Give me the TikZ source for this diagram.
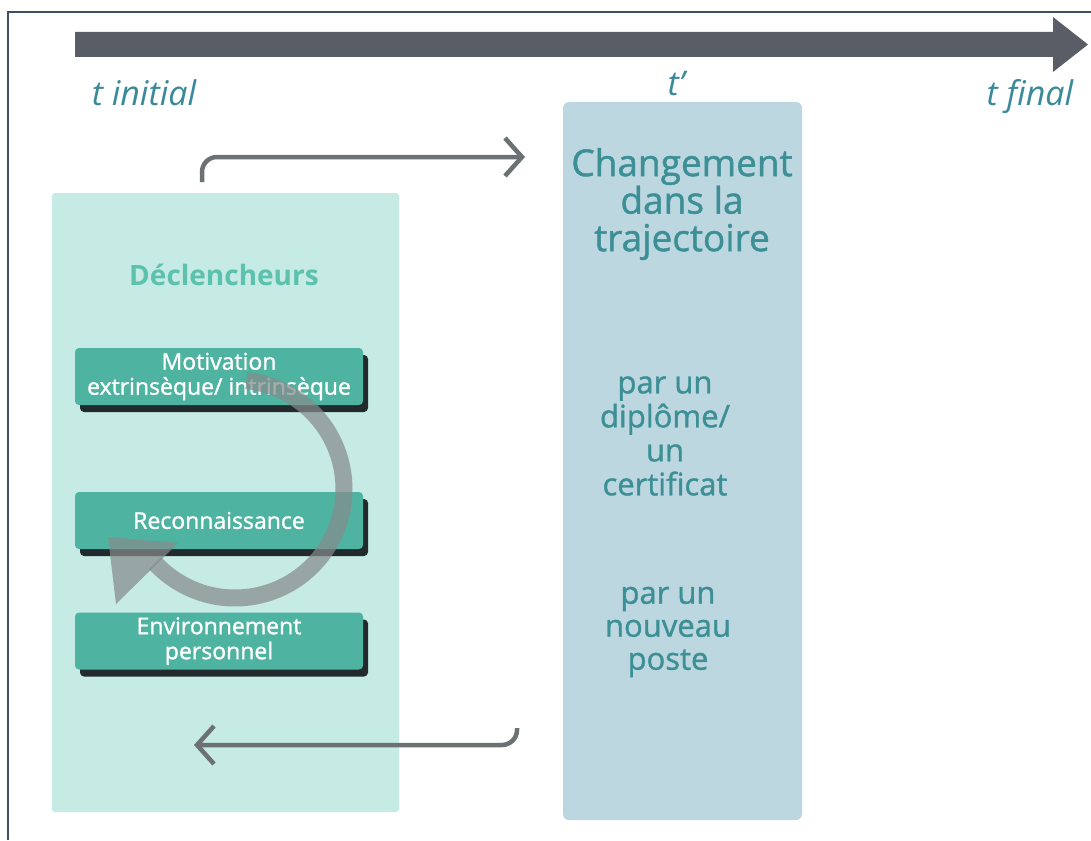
\documentclass[tikz,border=0pt]{standalone}
\usepackage{fontspec}
\setmainfont{Open Sans}
\newfontfamily\heavyfont{Open Sans}[FakeBold=1.2]
\usetikzlibrary{arrows.meta,shadows}
\definecolor{framec}{HTML}{3F4F66}
\definecolor{timec}{HTML}{595D66}
\definecolor{connc}{HTML}{6C7273}
\definecolor{mintc}{HTML}{C6EAE4}
\definecolor{bluec}{HTML}{BCD7E0}
\definecolor{tealbox}{HTML}{4EB3A0}
\definecolor{shadowc}{HTML}{222A2C}
\definecolor{titlec}{HTML}{3D8F96}
\definecolor{labc}{HTML}{3B8A99}
\definecolor{declc}{HTML}{5CC1AD}
\definecolor{cyclec}{HTML}{858B8C}
\tikzset{
  panel/.style={fill=mintc, rounded corners=3pt, inner sep=0pt},
  sidebox/.style={fill=bluec, rounded corners=6pt, inner sep=0pt},
  tbox/.style={fill=tealbox, rounded corners=4pt, minimum width=288pt, minimum height=57pt,
    inner sep=0pt, text=white, align=center, font=\heavyfont\fontsize{23}{25}\selectfont,
    general shadow={fill=shadowc, shadow xshift=5pt, shadow yshift=-7pt}},
  tlabel/.style={text=labc, font=\fontsize{34}{36}\selectfont\itshape, inner sep=0pt},
  btext/.style={text=titlec, align=center, inner sep=0pt},
  conn/.style={draw=connc, line width=4.5pt, rounded corners=15pt,
    -{Straight Barb[length=17pt,width=38pt]}},
}
\begin{document}
\begin{tikzpicture}[x=1pt,y=-1pt]
\useasboundingbox (0,0) rectangle (1091,840);
\fill[white] (0,0) rectangle (1091,840);
% frame
\draw[framec, line width=2pt] (8,840) -- (8,12) -- (1091,12);
% timeline arrow
\coordinate (tstart) at (75,44.5);
\coordinate (ttip) at (1088,44.5);
\fill[timec] (tstart) ++(0,-12.5) -- (1053,32) -- (1053,17) -- (ttip) -- (1053,72) -- (1053,57) -- ([yshift=-12.5pt]tstart) -- cycle;
% labels
\node[tlabel] (tini) at (144,93) {t initial};
\node[tlabel] (tpr) at (676,84) {t'};
\node[tlabel] (tfin) at (1030,97) {t final};
% panels
\node[panel, minimum width=347pt, minimum height=619pt] (left) at (225.5,502.5) {};
\node[sidebox, minimum width=239pt, minimum height=718pt] (right) at (682.5,461) {};
\node[text=declc, font=\fontsize{28}{30}\selectfont\bfseries, inner sep=0pt] (decl) at (224,275) {Déclencheurs};
\node[tbox] (moti) at (219,376.5) {Motivation\\extrinsèque/ intrinsèque};
\node[tbox] (reco) at (219,520.5) {Reconnaissance};
\node[tbox] (envi) at (219,641) {Environnement\\personnel};
% right texts
\node[btext, font=\heavyfont\fontsize{37}{37.5}\selectfont] (chg) at (682,204) {Changement\\dans la\\trajectoire};
\node[btext, font=\heavyfont\fontsize{31}{34}\selectfont] (dipl) at (665,436) {par un\\diplôme/\\un\\certificat};
\node[btext, font=\heavyfont\fontsize{31}{33}\selectfont] (poste) at (668,632) {par un\\nouveau\\poste};
% connectors
\coordinate (c1) at (202,182);
\coordinate (e1) at (525,157);
\draw[conn] (c1) |- (e1);
\coordinate (c2) at (517,728);
\coordinate (e2) at (194,745);
\draw[conn] (c2) |- (e2);
% cycle arrow
\begin{scope}[opacity=0.72]
\draw[cyclec, line width=17pt] plot[domain=-84:137, samples=80, smooth] ({235+109*cos(\x)},{489+109*sin(\x)});
\fill[cyclec] (108,537) -- (178,543) -- (116,604) -- cycle;
\end{scope}
\end{tikzpicture}
\end{document}
